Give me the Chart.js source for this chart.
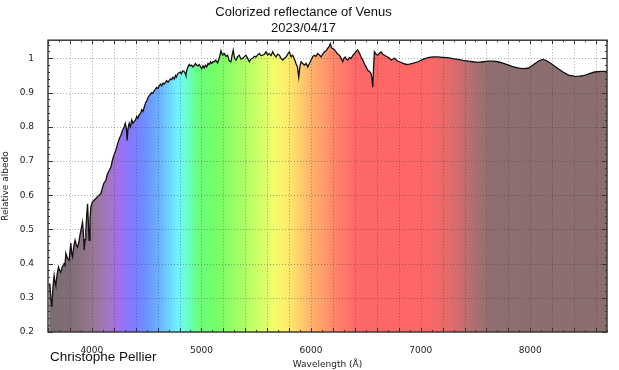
<!DOCTYPE html>
<html>
<head>
<meta charset="utf-8">
<script src="https://cdn.jsdelivr.net/npm/chart.js@4.4.1/dist/chart.umd.min.js"></script>
<style>
  html, body { margin: 0; padding: 0; background: #fff; }
  #wrap { width: 619px; height: 370px; position: relative; }
</style>
</head>
<body>
<div id="wrap"><canvas id="chartVenus"></canvas></div>
<script>
// ═══════════ DATOS ═══════════
const wavelengths = [
  3610, 3616, 3626, 3635, 3645, 3656, 3664, 3671, 3684, 3696, 3706, 3717, 3730, 3747, 3755, 3763,
  3778, 3793, 3808, 3816, 3824, 3835, 3847, 3858, 3869, 3880, 3890, 3900, 3915, 3923, 3930, 3938,
  3945, 3953, 3961, 3968, 3975, 3983, 3991, 4005, 4020, 4037, 4050, 4065, 4082, 4095, 4110, 4128,
  4140, 4155, 4174, 4190, 4205, 4219, 4235, 4250, 4265, 4280, 4295, 4305, 4315, 4322, 4330, 4341,
  4352, 4364, 4375, 4386, 4398, 4410, 4420, 4432, 4445, 4456, 4467, 4478, 4490, 4500, 4512, 4523,
  4535, 4546, 4557, 4569, 4580, 4592, 4603, 4615, 4627, 4638, 4650, 4660, 4672, 4683, 4695, 4706,
  4718, 4729, 4740, 4752, 4763, 4772, 4782, 4795, 4806, 4817, 4828, 4840, 4850, 4858, 4866, 4877,
  4889, 4900, 4911, 4922, 4934, 4945, 4957, 4968, 4980, 4992, 5003, 5014, 5025, 5036, 5048, 5060,
  5071, 5083, 5094, 5106, 5117, 5130, 5147, 5162, 5178, 5192, 5208, 5224, 5239, 5254, 5269, 5280,
  5290, 5302, 5315, 5330, 5345, 5360, 5376, 5391, 5406, 5421, 5437, 5452, 5467, 5482, 5498, 5513,
  5528, 5543, 5559, 5574, 5589, 5604, 5619, 5635, 5650, 5665, 5680, 5695, 5711, 5726, 5741, 5757,
  5772, 5787, 5802, 5818, 5833, 5848, 5863, 5876, 5888, 5898, 5909, 5924, 5939, 5955, 5970, 5985,
  6000, 6015, 6030, 6045, 6061, 6076, 6091, 6106, 6122, 6137, 6152, 6165, 6176, 6187, 6198, 6213,
  6228, 6244, 6259, 6274, 6289, 6300, 6311, 6323, 6335, 6350, 6365, 6380, 6396, 6411, 6426, 6442,
  6457, 6472, 6487, 6502, 6517, 6532, 6548, 6556, 6563, 6570, 6578, 6594, 6609, 6624, 6639, 6655,
  6670, 6685, 6700, 6715, 6731, 6746, 6761, 6785, 6807, 6840, 6870, 6898, 6935, 6975, 7020, 7066,
  7110, 7157, 7200, 7248, 7295, 7340, 7385, 7431, 7477, 7522, 7570, 7614, 7660, 7705, 7750, 7796,
  7840, 7887, 7930, 7979, 8010, 8040, 8080, 8116, 8150, 8192, 8245, 8299, 8350, 8405, 8450, 8496,
  8540, 8587, 8650, 8700
];

const albedo = [
  0.335, 0.342, 0.300, 0.273, 0.330, 0.365, 0.345, 0.336, 0.370, 0.390, 0.380, 0.375, 0.390, 0.400, 0.395, 0.430,
  0.415, 0.410, 0.460, 0.430, 0.420, 0.450, 0.468, 0.455, 0.448, 0.460, 0.480, 0.497, 0.521, 0.490, 0.440, 0.470,
  0.497, 0.540, 0.575, 0.520, 0.468, 0.530, 0.565, 0.580, 0.585, 0.590, 0.595, 0.600, 0.604, 0.620, 0.635, 0.643,
  0.660, 0.670, 0.682, 0.705, 0.720, 0.731, 0.750, 0.765, 0.775, 0.789, 0.800, 0.810, 0.795, 0.760, 0.795, 0.810,
  0.800, 0.820, 0.810, 0.815, 0.820, 0.830, 0.825, 0.835, 0.840, 0.850, 0.845, 0.857, 0.870, 0.875, 0.885, 0.891,
  0.895, 0.900, 0.898, 0.905, 0.910, 0.915, 0.912, 0.920, 0.925, 0.920, 0.928, 0.925, 0.930, 0.935, 0.930, 0.935,
  0.940, 0.938, 0.945, 0.940, 0.950, 0.945, 0.954, 0.958, 0.960, 0.955, 0.963, 0.962, 0.958, 0.950, 0.965, 0.975,
  0.982, 0.978, 0.980, 0.975, 0.979, 0.985, 0.980, 0.978, 0.982, 0.975, 0.970, 0.978, 0.972, 0.980, 0.975, 0.985,
  0.982, 0.990, 0.985, 0.990, 0.990, 0.995, 0.987, 1.000, 1.022, 1.010, 1.014, 1.006, 1.009, 0.992, 0.990, 1.010,
  1.024, 1.000, 0.995, 1.005, 1.009, 0.998, 1.000, 1.005, 1.009, 1.000, 0.990, 0.998, 1.000, 1.006, 1.004, 1.010,
  1.014, 1.008, 1.009, 1.012, 1.019, 1.010, 1.014, 1.008, 1.019, 1.010, 1.004, 1.012, 1.009, 1.000, 0.995, 1.000,
  1.004, 1.012, 1.019, 1.005, 1.009, 0.998, 0.984, 0.975, 0.945, 0.975, 0.990, 0.985, 0.980, 0.985, 0.975, 0.985,
  0.995, 1.005, 1.009, 1.006, 1.014, 1.010, 1.004, 1.012, 1.019, 1.022, 1.029, 1.035, 1.043, 1.030, 1.029, 1.025,
  1.019, 1.012, 1.009, 1.000, 0.990, 1.000, 1.004, 0.998, 0.995, 1.002, 1.000, 1.008, 1.014, 1.020, 1.024, 1.015,
  1.004, 0.995, 0.984, 0.975, 0.965, 0.962, 0.955, 0.940, 0.916, 0.970, 1.019, 1.012, 1.009, 1.015, 1.019, 1.012,
  1.009, 1.006, 1.004, 1.000, 0.995, 0.998, 1.000, 0.993, 0.990, 0.985, 0.982, 0.983, 0.986, 0.990, 0.997, 1.002,
  1.004, 1.004, 1.003, 1.002, 0.999, 0.997, 0.994, 0.992, 0.990, 0.988, 0.990, 0.992, 0.992, 0.990, 0.986, 0.981,
  0.976, 0.972, 0.970, 0.971, 0.977, 0.984, 0.993, 0.997, 0.993, 0.984, 0.972, 0.960, 0.951, 0.947, 0.948, 0.950,
  0.955, 0.960, 0.962, 0.962
];

const xLabels = [4000, 5000, 6000, 7000, 8000];
const yLabels = [0.2, 0.3, 0.4, 0.5, 0.6, 0.7, 0.8, 0.9, 1];

// colores del espectro (longitud de onda -> color)
const spectrumStops = [
  [3600, '#7a6d70'], [3800, '#7f6d76'], [4000, '#97778f'], [4150, '#a277c2'],
  [4250, '#a070ef'], [4350, '#8478ff'], [4480, '#6e8cff'], [4620, '#6ab4ff'],
  [4780, '#70f2ff'], [4860, '#6cffd6'], [4960, '#68ff80'], [5150, '#76ff66'],
  [5400, '#b0ff66'], [5650, '#f0ff6a'], [5800, '#ffea6a'], [6000, '#ffb46c'],
  [6200, '#ff8a6a'], [6400, '#ff6868'], [7050, '#ff6666'], [7250, '#e66a6a'],
  [7450, '#b66f70'], [7650, '#8e6e6e'], [8700, '#8a6e6e']
];

const FONT = 'DejaVu Sans';

// ═══════════ GRADIENTE ═══════════
function spectrumFill(context) {
  const chart = context.chart;
  const area = chart.chartArea;
  if (!area) return '#888';
  const xs = chart.scales.x;
  const g = chart.ctx.createLinearGradient(area.left, 0, area.right, 0);
  const w = area.right - area.left;
  spectrumStops.forEach(([wl, c]) => {
    const p = (xs.getPixelForValue(wl) - area.left) / w;
    g.addColorStop(Math.min(1, Math.max(0, p)), c);
  });
  return g;
}

// ═══════════ REJILLA, MARCO Y MARCAS ═══════════
const framePlugin = {
  id: 'frame',
  afterDatasetsDraw(chart) {
    const { ctx, chartArea: a, scales: { x, y } } = chart;
    ctx.save();
    ctx.strokeStyle = 'rgba(40,40,40,0.38)';
    ctx.lineWidth = 1;
    ctx.setLineDash([1, 2]);
    for (let v = 3800; v < 8700; v += 200) {
      const px = Math.round(x.getPixelForValue(v)) + 0.5;
      ctx.beginPath(); ctx.moveTo(px, a.top); ctx.lineTo(px, a.bottom); ctx.stroke();
    }
    for (let i = 3; i <= 10; i++) {
      const py = Math.round(y.getPixelForValue(i / 10)) + 0.5;
      ctx.beginPath(); ctx.moveTo(a.left, py); ctx.lineTo(a.right, py); ctx.stroke();
    }
    ctx.restore();
  },
  afterDraw(chart) {
    const { ctx, chartArea: a, scales: { x, y } } = chart;
    ctx.save();
    ctx.strokeStyle = '#333';
    ctx.lineWidth = 1;
    // marcas x (arriba y abajo)
    for (let v = 3600; v <= 8700; v += 100) {
      const px = Math.round(x.getPixelForValue(v)) + 0.5;
      const len = v % 200 === 0 ? 4 : 2;
      ctx.beginPath();
      ctx.moveTo(px, a.bottom); ctx.lineTo(px, a.bottom - len);
      ctx.moveTo(px, a.top); ctx.lineTo(px, a.top + len);
      ctx.stroke();
    }
    // marcas y (izquierda y derecha)
    for (let i = 20; i <= 104; i += 2) {
      const py = Math.round(y.getPixelForValue(i / 100)) + 0.5;
      const len = i % 10 === 0 ? 5 : 2;
      ctx.beginPath();
      ctx.moveTo(a.left, py); ctx.lineTo(a.left + len, py);
      ctx.moveTo(a.right, py); ctx.lineTo(a.right - len, py);
      ctx.stroke();
    }
    ctx.lineWidth = 1.5;
    ctx.strokeStyle = '#3a3a3a';
    ctx.strokeRect(a.left, a.top, a.right - a.left, a.bottom - a.top);

    ctx.fillStyle = '#111';
    ctx.font = '13.5px "Liberation Sans", Arial, sans-serif';
    ctx.textBaseline = 'middle';
    ctx.textAlign = 'left';
    ctx.fillText('Christophe Pellier', 50, 357);
    ctx.restore();
  }
};

// ═══════════ CHART ═══════════
new Chart(document.getElementById('chartVenus'), {
  type: 'line',
  data: {
    datasets: [{
      data: wavelengths.map((wl, i) => ({ x: wl, y: albedo[i] })),
      borderColor: '#111',
      borderWidth: 1.3,
      pointRadius: 0,
      tension: 0,
      fill: 'start',
      backgroundColor: spectrumFill
    }]
  },
  options: {
    responsive: true,
    maintainAspectRatio: false,
    animation: false,
    layout: { padding: { left: 0, right: 12, top: 5, bottom: 0 } },
    plugins: {
      legend: { display: false },
      tooltip: { enabled: false },
      title: {
        display: true,
        text: ['Colorized reflectance of Venus', '2023/04/17'],
        color: '#111',
        font: { family: 'Liberation Sans', size: 13, weight: 'normal', lineHeight: 1.2 },
        padding: { top: 0, bottom: 4 }
      }
    },
    scales: {
      x: {
        type: 'linear',
        min: 3600,
        max: 8700,
        grid: { display: false },
        border: { display: false },
        ticks: {
          stepSize: 200,
          autoSkip: false,
          maxRotation: 0,
          padding: 5,
          color: '#222',
          font: { family: FONT, size: 9 },
          callback: v => xLabels.includes(v) ? String(v) : ''
        },
        title: {
          display: true,
          text: 'Wavelength (Å)',
          color: '#222',
          font: { family: FONT, size: 9 },
          padding: { top: 2, bottom: 0 }
        },
        afterFit: s => { s.height = 38; }
      },
      y: {
        min: 0.2,
        max: 1.053,
        grid: { display: false },
        border: { display: false },
        ticks: {
          stepSize: 0.1,
          padding: 6,
          color: '#222',
          font: { family: FONT, size: 9 },
          callback: v => {
            const r = Math.round(v * 10) / 10;
            return yLabels.includes(r) && Math.abs(v - r) < 0.001 ? String(r) : '';
          }
        },
        title: {
          display: true,
          text: 'Relative albedo',
          color: '#222',
          font: { family: FONT, size: 9 },
          padding: { top: 0, bottom: 4 }
        },
        afterFit: s => { s.width = 48; }
      }
    }
  },
  plugins: [framePlugin]
});
</script>
</body>
</html>
